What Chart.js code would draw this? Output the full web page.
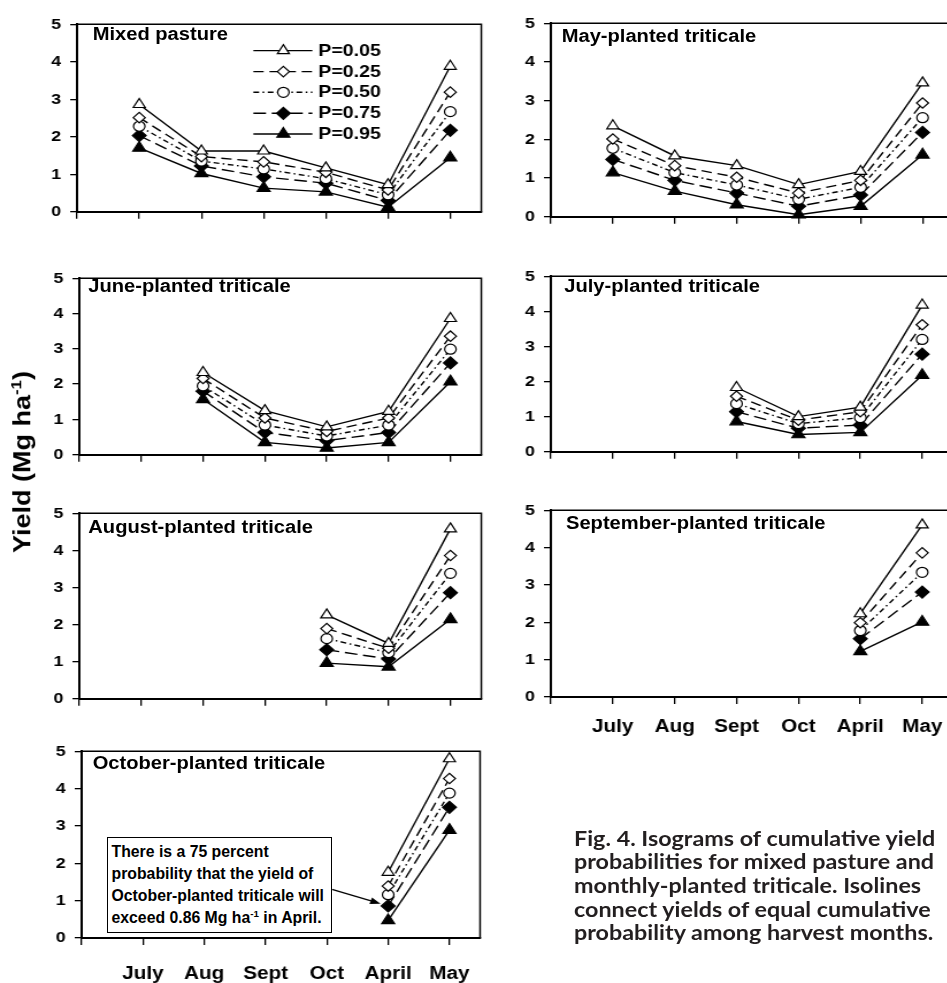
<!DOCTYPE html>
<html>
<head>
<meta charset="utf-8">
<script src="https://cdn.jsdelivr.net/npm/chart.js@4.4.1/dist/chart.umd.min.js"></script>
<style>
html,body{margin:0;padding:0;background:#fff;width:947px;height:983px;overflow:hidden;position:relative;}
#wrap{position:absolute;left:0;top:0;width:824px;height:983px;transform-origin:0 0;}
#wrap canvas{position:absolute;}
.ptitle{position:absolute;font-family:"Liberation Sans",Arial,sans-serif;font-weight:bold;font-size:17.5px;line-height:17.5px;white-space:nowrap;color:#000;}
#ytitle{position:absolute;left:23px;top:462px;font-family:"Liberation Sans",Arial,sans-serif;font-weight:bold;font-size:27px;line-height:27px;white-space:nowrap;color:#000;transform:translate(-50%,-50%) rotate(-90deg) scaleY(0.9);}
#ytitle sup,#note sup{font-size:62%;line-height:0;vertical-align:0.65em;}
#note{position:absolute;left:107px;top:837px;width:225px;height:96px;box-sizing:border-box;border:1.5px solid #000;background:#fff;padding:3px 0 0 3.5px;font-family:"Liberation Sans",Arial,sans-serif;font-weight:bold;font-size:15.8px;line-height:22px;white-space:nowrap;color:#000;}
#caption{position:absolute;left:574px;top:825.8px;font-family:Lato,"Open Sans",sans-serif;font-weight:bold;font-size:21px;line-height:23.6px;white-space:nowrap;color:#231f20;display:inline-block;transform-origin:0 0;}
</style>
</head>
<body>
<div id="wrap"></div>
<div id="ytitle">Yield (Mg ha<sup>-1</sup>)</div>
<div id="note">There is a 75 percent<br>probability that the yield of<br>October-planted triticale will<br>exceed 0.86 Mg ha<sup>-1</sup> in April.</div>
<div id="caption">Fig. 4. Isograms of cumulative yield<br>probabilities for mixed pasture and<br>monthly-planted triticale. Isolines<br>connect yields of equal cumulative<br>probability among harvest months.</div>
<script>
// ---------------- data ----------------
const categories = ['July', 'Aug', 'Sept', 'Oct', 'April', 'May'];
const xTickLabels = ['', 'July', 'Aug', 'Sept', 'Oct', 'April', 'May'];
const yTickValues = [0, 1, 2, 3, 4, 5];
const probLabels = ['P=0.05', 'P=0.25', 'P=0.50', 'P=0.75', 'P=0.95'];

// rows: P=0.05, 0.25, 0.50, 0.75, 0.95 ; columns: categories
const mixedPasture = [
  [2.86, 1.62, 1.62, 1.17, 0.72, 3.88],
  [2.51, 1.47, 1.33, 1.05, 0.58, 3.19],
  [2.28, 1.35, 1.14, 0.88, 0.45, 2.67],
  [2.03, 1.22, 0.93, 0.76, 0.30, 2.17],
  [1.70, 1.02, 0.63, 0.53, 0.12, 1.44]
];
const mayPlanted = [
  [2.35, 1.57, 1.32, 0.83, 1.17, 3.46],
  [2.01, 1.32, 1.02, 0.61, 0.94, 2.94],
  [1.77, 1.14, 0.82, 0.45, 0.76, 2.56],
  [1.48, 0.94, 0.61, 0.27, 0.56, 2.18],
  [1.14, 0.66, 0.31, 0.05, 0.27, 1.60]
];
const junePlanted = [
  [null, 2.33, 1.25, 0.79, 1.23, 3.86],
  [null, 2.16, 1.04, 0.66, 1.04, 3.36],
  [null, 1.95, 0.84, 0.53, 0.84, 2.99],
  [null, 1.80, 0.63, 0.40, 0.63, 2.60],
  [null, 1.57, 0.35, 0.19, 0.35, 2.07]
];
const julyPlanted = [
  [null, null, 1.83, 1.00, 1.27, 4.18],
  [null, null, 1.58, 0.90, 1.14, 3.62],
  [null, null, 1.37, 0.80, 0.97, 3.20],
  [null, null, 1.14, 0.67, 0.76, 2.78],
  [null, null, 0.86, 0.49, 0.55, 2.18]
];
const augustPlanted = [
  [null, null, null, 2.26, 1.49, 4.58],
  [null, null, null, 1.89, 1.36, 3.86],
  [null, null, null, 1.62, 1.24, 3.38],
  [null, null, null, 1.32, 1.07, 2.86],
  [null, null, null, 0.96, 0.86, 2.14]
];
const septemberPlanted = [
  [null, null, null, null, 2.23, 4.61],
  [null, null, null, null, 1.99, 3.86],
  [null, null, null, null, 1.78, 3.34],
  [null, null, null, null, 1.56, 2.81],
  [null, null, null, null, 1.22, 2.01]
];
const octoberPlanted = [
  [null, null, null, null, 1.76, 4.80],
  [null, null, null, null, 1.39, 4.27],
  [null, null, null, null, 1.16, 3.88],
  [null, null, null, null, 0.86, 3.50],
  [null, null, null, null, 0.47, 2.89]
];
const panelTitles = ['Mixed pasture', 'May-planted triticale', 'June-planted triticale',
  'July-planted triticale', 'August-planted triticale', 'September-planted triticale',
  'October-planted triticale'];
const panelData = [mixedPasture, mayPlanted, junePlanted, julyPlanted, augustPlanted, septemberPlanted, octoberPlanted];

// ---------------- styles / layout ----------------
const K = 1.15;     // horizontal stretch of the reference figure
const WY = 40, PAD_T = 10;
const seriesStyles = [
  {dash: [], pointStyle: 'triangle', radius: 6, fill: '#fff'},
  {dash: [9, 5], pointStyle: 'rectRot', radius: 5.2, fill: '#fff'},
  {dash: [5, 3, 1.5, 3], pointStyle: 'circle', radius: 5, fill: '#fff'},
  {dash: [11, 5], pointStyle: 'rectRot', radius: 6, fill: '#000'},
  {dash: [], pointStyle: 'triangle', radius: 6.5, fill: '#000'}
];
// reference-pixel geometry of each panel's plot box
const layout = [
  {ax: 76.7, top: 17, bottom: 217, right: 481, showX: false, tx: 92.7, ty: 34.5, legend: true},
  {ax: 550.3, top: 16, bottom: 222, right: 953, showX: false, tx: 561.7, ty: 36.7},
  {ax: 79, top: 271, bottom: 460, right: 481, showX: false, tx: 88.3, ty: 286.7},
  {ax: 550.7, top: 269, bottom: 457, right: 953, showX: false, tx: 564.3, ty: 286.5},
  {ax: 79, top: 506, bottom: 704, right: 481, showX: false, tx: 88.3, ty: 527.3},
  {ax: 550.7, top: 503, bottom: 697, right: 953, showX: true, labelPad: 12, tx: 566, ty: 523.3},
  {ax: 81.7, top: 744, bottom: 938, right: 481, showX: true, labelPad: 18, tx: 92.7, ty: 763.3, arrow: true}
];

const wrap = document.getElementById('wrap');
wrap.style.transform = 'scaleX(' + K + ')';

function drawMarker(ctx, st, x, y) {
  ctx.save();
  ctx.setLineDash([]);
  ctx.fillStyle = st.fill;
  ctx.strokeStyle = '#000';
  ctx.lineWidth = 1.2;
  Chart.helpers.drawPoint(ctx, {pointStyle: st.pointStyle, radius: st.radius, rotation: 0, borderWidth: 1.2}, x, y);
  ctx.restore();
}

layout.forEach((p, idx) => {
  const span = (p.right - p.ax) / K;
  const W = Math.ceil(WY + span + 8);
  const padR = W - WY - span;
  const HX0 = p.showX ? 52 : 12;
  const H = Math.ceil(p.bottom - p.top + PAD_T + HX0);
  const HX = H - (p.bottom - p.top) - PAD_T;

  const c = document.createElement('canvas');
  c.width = W; c.height = H;
  c.style.width = W + 'px'; c.style.height = H + 'px';
  c.style.left = (p.ax / K - WY) + 'px';
  c.style.top = (p.top - PAD_T) + 'px';
  wrap.appendChild(c);

  const t = document.createElement('div');
  t.className = 'ptitle';
  t.textContent = panelTitles[idx];
  t.style.left = (p.tx / K) + 'px';
  t.style.top = (p.ty - 8.55) + 'px';
  wrap.appendChild(t);

  const rows = panelData[idx];
  const datasets = rows.map((vals, si) => {
    const st = seriesStyles[si];
    return {
      label: probLabels[si],
      data: vals.map((v, i) => v == null ? null : {x: i + 1, y: v}).filter(Boolean),
      borderColor: '#000',
      borderWidth: 1.4,
      borderDash: st.dash,
      pointStyle: st.pointStyle,
      pointRadius: st.radius,
      pointBackgroundColor: st.fill,
      pointBorderColor: '#000',
      pointBorderWidth: 1.2,
      fill: false,
      tension: 0,
      clip: false
    };
  });

  const toLocal = (chart, rx, ry) => [
    (rx - p.ax) / K + chart.chartArea.left,
    ry - p.top + chart.chartArea.top
  ];

  const framePlugin = {
    id: 'frame' + idx,
    beforeDatasetsDraw(chart) {
      const {ctx, chartArea: a} = chart;
      ctx.save();
      ctx.strokeStyle = '#000';
      ctx.lineWidth = 1.5;
      ctx.beginPath();
      ctx.moveTo(a.left, a.top);
      ctx.lineTo(a.right, a.top);
      ctx.lineTo(a.right, a.bottom);
      ctx.stroke();
      ctx.restore();
    }
  };

  const extraPlugin = {
    id: 'extra' + idx,
    afterDatasetsDraw(chart) {
      const ctx = chart.ctx;
      if (p.legend) {
        const rowY = [43.3, 64.3, 85, 106, 126.7];
        chart.data.datasets.forEach((ds, si) => {
          const st = seriesStyles[si];
          const [x1, y] = toLocal(chart, 253, rowY[si]);
          const [x2] = toLocal(chart, 312, rowY[si]);
          const [xm] = toLocal(chart, 283, rowY[si]);
          const [xt] = toLocal(chart, 318, rowY[si]);
          ctx.save();
          ctx.strokeStyle = '#000';
          ctx.lineWidth = 1.4;
          ctx.setLineDash(st.dash);
          ctx.beginPath();
          ctx.moveTo(x1, y); ctx.lineTo(x2, y);
          ctx.stroke();
          ctx.restore();
          drawMarker(ctx, st, xm, y);
          ctx.save();
          ctx.fillStyle = '#000';
          ctx.font = 'bold 17px "Liberation Sans", Arial, sans-serif';
          ctx.textBaseline = 'middle';
          ctx.textAlign = 'left';
          ctx.fillText(ds.label, xt, y + 0.5);
          ctx.restore();
        });
      }
      if (p.arrow) {
        // arrow from the note box to the April P=0.75 point
        const meta = chart.getDatasetMeta(3);
        const pt = meta.data[0];
        const [sx, sy] = toLocal(chart, 332, 882);
        const dx = pt.x - sx, dy = pt.y - sy;
        const len = Math.hypot(dx, dy);
        const ux = dx / len, uy = dy / len;
        const ex = pt.x - ux * 7, ey = pt.y - uy * 7;
        const hl = 9, hw = 3.5;
        ctx.save();
        ctx.strokeStyle = '#000';
        ctx.fillStyle = '#000';
        ctx.lineWidth = 1.3;
        ctx.beginPath();
        ctx.moveTo(sx, sy);
        ctx.lineTo(ex - ux * hl * 0.8, ey - uy * hl * 0.8);
        ctx.stroke();
        ctx.beginPath();
        ctx.moveTo(ex, ey);
        ctx.lineTo(ex - ux * hl - uy * hw, ey - uy * hl + ux * hw);
        ctx.lineTo(ex - ux * hl + uy * hw, ey - uy * hl - ux * hw);
        ctx.closePath();
        ctx.fill();
        ctx.restore();
      }
    }
  };

  new Chart(c, {
    type: 'line',
    data: {datasets},
    plugins: [framePlugin, extraPlugin],
    options: {
      responsive: false,
      animation: false,
      devicePixelRatio: 1,
      layout: {padding: {top: PAD_T, right: padR, left: 0, bottom: 0}},
      plugins: {legend: {display: false}, tooltip: {enabled: false}, title: {display: false}},
      scales: {
        x: {
          type: 'linear', min: 0, max: 6.5,
          afterBuildTicks: (s) => { s.ticks = xTickLabels.map((_, i) => ({value: i})); },
          afterFit: (s) => { s.height = HX; },
          ticks: {
            callback: (v) => p.showX ? xTickLabels[v] : '',
            font: {family: '"Liberation Sans", Arial, sans-serif', size: 18, weight: 'bold'},
            color: '#000', padding: p.labelPad || 4, maxRotation: 0, autoSkip: false
          },
          grid: {drawOnChartArea: false, drawTicks: true, tickLength: 7, color: '#000', lineWidth: 1.3},
          border: {display: true, color: '#000', width: 2}
        },
        y: {
          min: 0, max: 5,
          afterBuildTicks: (s) => { s.ticks = yTickValues.map((v) => ({value: v})); },
          afterFit: (s) => { s.width = WY; },
          ticks: {
            callback: (v) => String(v),
            font: {family: '"Liberation Sans", Arial, sans-serif', size: 15.5, weight: 'bold'},
            color: '#000', padding: 8
          },
          grid: {drawOnChartArea: false, drawTicks: true, tickLength: 6, color: '#000', lineWidth: 1.3},
          border: {display: true, color: '#000', width: 2}
        }
      }
    }
  });
});

// fit caption width to the reference
const cap = document.getElementById('caption');
const cw = cap.offsetWidth;
if (cw > 0) cap.style.transform = 'scaleX(' + (361 / cw) + ')';
</script>
</body>
</html>
